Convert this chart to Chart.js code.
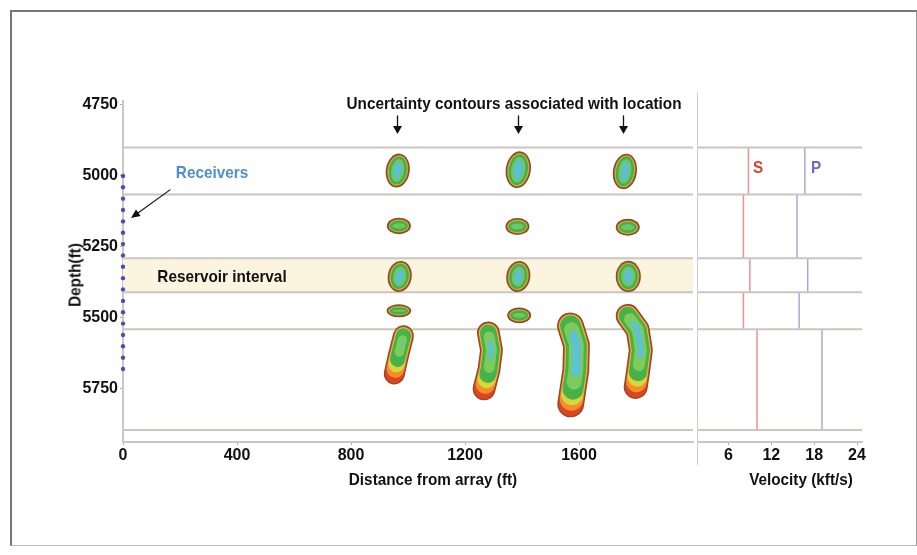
<!DOCTYPE html>
<html>
<head>
<meta charset="utf-8">
<script src="https://cdn.jsdelivr.net/npm/chart.js@4.4.1/dist/chart.umd.min.js"></script>
<style>
  body { margin: 0; background: #fff; }
  #wrap { position: relative; width: 917px; height: 555px; overflow: hidden; }
  #frame { position: absolute; left: 10px; top: 10px; width: 904px; height: 533px; border-left: 2px solid #777; border-top: 2px solid #777; border-right: 1px solid #999; border-bottom: 1px solid #bbb; }
  canvas { position: absolute; top: 0; }
  .lbl { position: absolute; font-family: 'Liberation Sans', Arial, sans-serif; font-size: 17px; font-weight: bold; white-space: nowrap; line-height: 1; color: #111; transform: translate(-50%, -50%) scaleX(0.9); }
</style>
</head>
<body>
<div id="wrap">
  <div id="frame"></div>
  <canvas id="dist" width="697" height="555" style="left:0"></canvas>
  <canvas id="vel" width="183" height="555" style="left:697px"></canvas>
  <div class="lbl" style="left:514px;top:103px">Uncertainty contours associated with location</div>
  <div class="lbl" style="left:212px;top:172px;color:#4d8fd2">Receivers</div>
  <div class="lbl" style="left:222px;top:276px">Reservoir interval</div>
  <div class="lbl" style="left:758px;top:167px;color:#e0402e">S</div>
  <div class="lbl" style="left:816px;top:167px;color:#6d6db8">P</div>
  <div class="lbl" style="left:433px;top:479px">Distance from array (ft)</div>
  <div class="lbl" style="left:801px;top:479px">Velocity (kft/s)</div>
  <div class="lbl" style="left:75px;top:275px;transform:translate(-50%, -50%) rotate(-90deg) scaleX(0.9)">Depth(ft)</div>
</div>
<script>
// axis ticks
const distTicks = [0, 400, 800, 1200, 1600];
const depthTicks = [4750, 5000, 5250, 5500, 5750];
const velTicks = [6, 12, 18, 24];

// layered model
const layerTops = [4900, 5065, 5290, 5410, 5540];
const layerBottoms = [5065, 5290, 5410, 5540, 5895];
const sVel = [8.8, 8.1, 9.0, 8.1, 10.0];
const pVel = [16.7, 15.6, 17.1, 15.9, 19.1];
const reservoirTop = 5290;
const reservoirBase = 5410;

// receiver array at distance 0
const receiverDepths = [5000, 5040, 5080, 5120, 5160, 5200, 5240, 5280, 5320,
  5360, 5400, 5440, 5480, 5520, 5560, 5600, 5640, 5680];

// columns pointed at by the arrows
const arrowCols = [960, 1385, 1755];

// elliptical uncertainty contours: centre (ft), half width (ft), half height (ft)
const ellX = [964, 1387, 1761, 968, 1384, 1771, 971, 1387, 1773, 968, 1390];
const ellDepth = [4981, 4978, 4984, 5176, 5178, 5181, 5354, 5354, 5354, 5475, 5491];
const ellHalfW = [42, 44, 42, 42, 42, 42, 42, 42, 44, 43, 42];
const ellHalfH = [60, 65, 63, 29, 30, 30, 55, 55, 55, 23, 28];

// elongated contours: centre line (distance, depth) and half width (ft)
const streakA = [[984, 5563], [966, 5634], [952, 5697]];
const streakB = [[1282, 5553], [1293, 5613], [1284, 5683], [1267, 5750]];
const streakC = [[1570, 5528], [1591, 5595], [1589, 5683], [1571, 5803]];
const streakD = [[1771, 5493], [1806, 5542], [1817, 5613], [1808, 5683], [1799, 5743]];
const streaks = [streakA, streakB, streakC, streakD];
const streakHalfW = [37, 40, 47, 42];

const LINE = '#cdc4c4';

function fixedTicks(list) {
  return scale => { scale.ticks = list.map(v => ({ value: v })); };
}

function pointAt(pts, seg, s) {
  let acc = 0;
  for (let i = 0; i < seg.length; i++) {
    if (s <= acc + seg[i] || i === seg.length - 1) {
      const t = seg[i] ? Math.max(0, Math.min(1, (s - acc) / seg[i])) : 0;
      return [pts[i][0] + (pts[i + 1][0] - pts[i][0]) * t, pts[i][1] + (pts[i + 1][1] - pts[i][1]) * t];
    }
    acc += seg[i];
  }
  return pts[pts.length - 1];
}

// cut s0 px off the start and s1 px off the end of a polyline
function trimPath(pts, s0, s1) {
  const seg = [];
  let total = 0;
  for (let i = 1; i < pts.length; i++) {
    const d = Math.hypot(pts[i][0] - pts[i - 1][0], pts[i][1] - pts[i - 1][1]);
    seg.push(d);
    total += d;
  }
  const a = s0, b = total - s1;
  if (b <= a) return [pointAt(pts, seg, (a + b) / 2)];
  const out = [pointAt(pts, seg, a)];
  let acc = 0;
  for (let i = 0; i < seg.length; i++) {
    acc += seg[i];
    if (acc > a && acc < b) out.push(pts[i + 1]);
  }
  out.push(pointAt(pts, seg, b));
  return out;
}

const ellLayers = [
  { c: '#8a4a2c', d: 0 }, { c: '#d98e30', d: 1.6 }, { c: '#b9c33e', d: 2.3 },
  { c: '#44b04a', d: 2.9 }, { c: '#72c65c', d: 5.5 }, { c: '#5cbfd2', d: 8 }
];
const streakLayers = [
  { c: '#8a4a2c', d: 0, tb: 0, tt: 0 }, { c: '#e2431f', d: 1.2, tb: 0, tt: 0 },
  { c: '#f0902a', d: 1.7, tb: 5, tt: 0 }, { c: '#dcd43c', d: 2.3, tb: 10, tt: 0 },
  { c: '#48b24a', d: 2.9, tb: 15, tt: 0 }, { c: '#7ccb5c', d: 6, tb: 22, tt: 4 },
  { c: '#5cc2d4', d: 9, tb: 32, tt: 10 }
];

const contourPlugin = {
  id: 'contours',
  beforeDatasetsDraw(chart) {
    const { ctx, chartArea: a, scales: { y } } = chart;
    const t = y.getPixelForValue(reservoirTop), b = y.getPixelForValue(reservoirBase);
    ctx.save();
    ctx.fillStyle = '#fbf4df';
    ctx.fillRect(a.left, t, a.right - a.left, b - t);
    ctx.restore();
  },
  afterDatasetsDraw(chart) {
    const { ctx, chartArea: a, scales: { x, y } } = chart;
    ctx.save();
    // ellipses
    ellX.forEach((cx, i) => {
      const px = x.getPixelForValue(cx), py = y.getPixelForValue(ellDepth[i]);
      const rx = x.getPixelForValue(cx + ellHalfW[i]) - px;
      const ry = y.getPixelForValue(ellDepth[i] + ellHalfH[i]) - py;
      const rot = ry > rx * 1.3 ? 0.15 : 0;
      ellLayers.forEach(l => {
        if (rx - l.d <= 0.5 || ry - l.d <= 0.5) return;
        ctx.beginPath();
        ctx.ellipse(px, py, rx - l.d, ry - l.d, rot, 0, Math.PI * 2);
        ctx.fillStyle = l.c;
        ctx.fill();
      });
    });
    // streaks
    streaks.forEach((s, i) => {
      const pts = s.map(p => [x.getPixelForValue(p[0]), y.getPixelForValue(p[1])]);
      const hw = x.getPixelForValue(s[0][0] + streakHalfW[i]) - pts[0][0];
      streakLayers.forEach(l => {
        const w = 2 * (hw - l.d);
        if (w <= 1) return;
        const p = trimPath(pts, l.tt, l.tb);
        ctx.strokeStyle = l.c;
        ctx.fillStyle = l.c;
        if (p.length === 1) {
          ctx.beginPath();
          ctx.arc(p[0][0], p[0][1], w / 2, 0, Math.PI * 2);
          ctx.fill();
          return;
        }
        ctx.lineWidth = w;
        ctx.lineCap = 'round';
        ctx.lineJoin = 'round';
        ctx.beginPath();
        ctx.moveTo(p[0][0], p[0][1]);
        for (let k = 1; k < p.length; k++) ctx.lineTo(p[k][0], p[k][1]);
        ctx.stroke();
      });
    });
    // arrows above the columns
    ctx.strokeStyle = '#111';
    ctx.fillStyle = '#111';
    ctx.lineWidth = 1.3;
    arrowCols.forEach(c => {
      const px = Math.round(x.getPixelForValue(c)) + 0.5;
      ctx.beginPath();
      ctx.moveTo(px, a.top + 15);
      ctx.lineTo(px, a.top + 27);
      ctx.stroke();
      ctx.beginPath();
      ctx.moveTo(px - 4.5, a.top + 25);
      ctx.lineTo(px + 4.5, a.top + 25);
      ctx.lineTo(px, a.top + 33);
      ctx.closePath();
      ctx.fill();
    });
    // arrow to the receivers
    const tx = x.getPixelForValue(0) + 8, ty = y.getPixelForValue(5148);
    const fx = x.getPixelForValue(0) + 47, fy = y.getPixelForValue(5049);
    const ang = Math.atan2(ty - fy, tx - fx);
    ctx.lineWidth = 1.2;
    ctx.beginPath();
    ctx.moveTo(fx, fy);
    ctx.lineTo(tx - 6 * Math.cos(ang), ty - 6 * Math.sin(ang));
    ctx.stroke();
    ctx.beginPath();
    ctx.moveTo(tx, ty);
    ctx.lineTo(tx - 9 * Math.cos(ang) + 4 * Math.sin(ang), ty - 9 * Math.sin(ang) - 4 * Math.cos(ang));
    ctx.lineTo(tx - 9 * Math.cos(ang) - 4 * Math.sin(ang), ty - 9 * Math.sin(ang) + 4 * Math.cos(ang));
    ctx.closePath();
    ctx.fill();
    ctx.restore();
  }
};

const separatorPlugin = {
  id: 'separator',
  afterDraw(chart) {
    const { ctx, chartArea: a } = chart;
    ctx.save();
    ctx.strokeStyle = '#cfcfcf';
    ctx.lineWidth = 2;
    ctx.beginPath();
    ctx.moveTo(a.left, a.top - 9);
    ctx.lineTo(a.left, a.bottom + 23);
    ctx.stroke();
    ctx.restore();
  }
};

function lineSet(points, color, width) {
  return {
    type: 'scatter', data: points, showLine: true, borderColor: color,
    borderWidth: width, pointRadius: 0, fill: false, tension: 0
  };
}

const boundaries = layerTops.concat([layerBottoms[layerBottoms.length - 1]]);

// distance panel
const distSets = boundaries.map(d => lineSet([{ x: 0, y: d }, { x: 2000, y: d }], LINE, 2));
distSets.push({
  type: 'scatter',
  data: receiverDepths.map(d => ({ x: 0, y: d })),
  pointRadius: 2.2, pointBackgroundColor: '#4c4cb4', pointBorderWidth: 0, clip: false
});

const tickFont = { family: "'Liberation Sans', Arial, sans-serif", size: 16, weight: 'bold' };
const plainLabel = v => String(v);

new Chart(document.getElementById('dist'), {
  type: 'scatter',
  data: { datasets: distSets },
  options: {
    responsive: false, animation: false,
    layout: { padding: { top: 101, left: 0, right: 2, bottom: 0 } },
    plugins: { legend: { display: false }, tooltip: { enabled: false } },
    scales: {
      x: {
        type: 'linear', min: 0, max: 2000,
        afterBuildTicks: fixedTicks(distTicks),
        afterFit: s => { s.height = 113; },
        grid: { drawOnChartArea: false, tickLength: 3, color: '#aaa' },
        border: { color: '#c8c8c8', width: 2 },
        ticks: { font: tickFont, color: '#111', padding: 1, callback: plainLabel }
      },
      y: {
        type: 'linear', reverse: true, min: 4736, max: 5937,
        afterBuildTicks: fixedTicks(depthTicks),
        afterFit: s => { s.width = 123; },
        grid: { drawOnChartArea: false, tickLength: 3, color: '#aaa' },
        border: { color: '#c8c8c8', width: 2 },
        ticks: { font: tickFont, color: '#111', padding: 2, callback: plainLabel }
      }
    }
  },
  plugins: [contourPlugin]
});

// velocity panel
const velSets = boundaries.map(d => lineSet([{ x: 0, y: d }, { x: 30, y: d }], LINE, 2));
layerTops.forEach((t, i) => {
  velSets.push(lineSet([{ x: sVel[i], y: t }, { x: sVel[i], y: layerBottoms[i] }], '#f29090', 1.5));
  velSets.push(lineSet([{ x: pVel[i], y: t }, { x: pVel[i], y: layerBottoms[i] }], '#a9a9d9', 1.5));
});

new Chart(document.getElementById('vel'), {
  type: 'scatter',
  data: { datasets: velSets },
  options: {
    responsive: false, animation: false,
    layout: { padding: { top: 101, left: 0, right: 18, bottom: 0 } },
    plugins: { legend: { display: false }, tooltip: { enabled: false } },
    scales: {
      x: {
        type: 'linear', min: 1.6, max: 24.7,
        afterBuildTicks: fixedTicks(velTicks),
        afterFit: s => { s.height = 113; },
        grid: { drawOnChartArea: false, tickLength: 3, color: '#aaa' },
        border: { color: '#c8c8c8', width: 2 },
        ticks: { font: tickFont, color: '#111', padding: 1, callback: plainLabel }
      },
      y: {
        type: 'linear', reverse: true, min: 4736, max: 5937, display: false
      }
    }
  },
  plugins: [separatorPlugin]
});
</script>
</body>
</html>
